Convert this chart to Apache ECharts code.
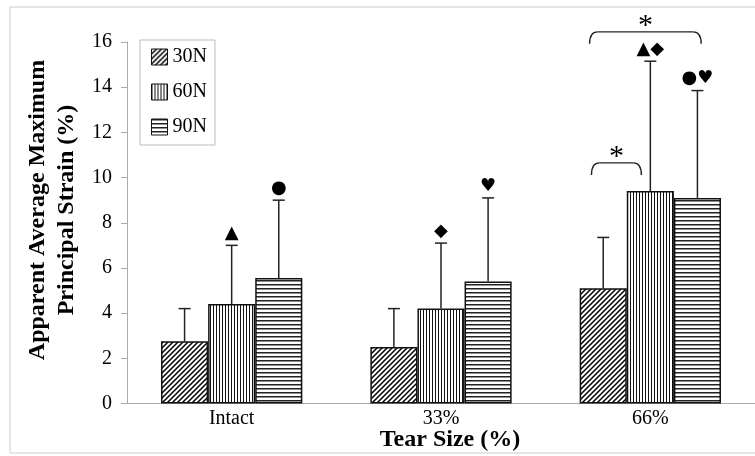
<!DOCTYPE html>
<html lang="en">
<head>
    <meta charset="UTF-8">
    <title>Tear size strain</title>
    <style>
        html, body { margin: 0; padding: 0; background: #fff; }
        #demo { width: 755px; height: 456px; }
    </style>
</head>
<body>
<div id="demo"></div>
<script type="text/javascript" src="https://cdn.jsdelivr.net/npm/echarts@6/dist/echarts.min.js"></script>
<script type="text/javascript">
// data
var categories = ['Intact', '33%', '66%'];
var seriesNames = ['30N', '60N', '90N'];
var strain30 = [2.75, 2.5, 5.1];
var strain60 = [4.4, 4.2, 9.4];
var strain90 = [5.55, 5.4, 9.1];
var sd30 = [1.45, 1.7, 2.25];
var sd60 = [2.6, 2.9, 5.75];
var sd90 = [3.45, 3.7, 4.75];
var marks30 = ['', '', ''];
var marks60 = ['▲', '◆', '▲◆'];
var marks90 = ['●', '♥', '●♥'];
var yTicks = [0, 16, 2];   // min, max, interval
// significance brackets (category, level, bar-slot start/end)
var bracketCat = [2, 2];
var bracketLevel = [10.65, 16.45];
var bracketFrom = [-0.25, -0.29];
var bracketTo = [0.81, 2.08];

var means = [strain30, strain60, strain90];
var sds = [sd30, sd60, sd90];
var marks = [marks30, marks60, marks90];
var BAR_FRAC = 0.225;
var SERIF = "'Liberation Serif', 'Times New Roman', serif";

function makePattern(kind) {
    var c = document.createElement('canvas');
    var ctx;
    if (kind === 'diag') {
        c.width = 5; c.height = 5;
        ctx = c.getContext('2d');
        ctx.fillStyle = '#fff'; ctx.fillRect(0, 0, 5, 5);
        ctx.strokeStyle = '#000'; ctx.lineWidth = 1.5;
        ctx.beginPath();
        ctx.moveTo(-1, 6); ctx.lineTo(6, -1);
        ctx.moveTo(-1, 1); ctx.lineTo(1, -1);
        ctx.moveTo(4, 6); ctx.lineTo(6, 4);
        ctx.stroke();
    } else if (kind === 'vert') {
        c.width = 3; c.height = 3;
        ctx = c.getContext('2d');
        ctx.fillStyle = '#fff'; ctx.fillRect(0, 0, 3, 3);
        ctx.fillStyle = '#111'; ctx.fillRect(0, 0, 1, 3);
    } else {
        c.width = 4; c.height = 4;
        ctx = c.getContext('2d');
        ctx.fillStyle = '#fff'; ctx.fillRect(0, 0, 4, 4);
        ctx.fillStyle = '#222'; ctx.fillRect(0, 0, 4, 1.5);
    }
    return {image: c, repeat: 'repeat'};
}
var patterns = [makePattern('diag'), makePattern('vert'), makePattern('horiz')];

function errRender(s) {
    return function (params, api) {
        var i = params.dataIndex;
        var band = api.size([1, 0])[0];
        var bw = band * BAR_FRAC;
        var cx = api.coord([i, 0])[0] + (s - 1) * bw;
        var yBase = api.coord([i, means[s][i]])[1];
        var yTop = api.coord([i, means[s][i] + sds[s][i]])[1];
        var lineStyle = {stroke: '#222', lineWidth: 1.5};
        return {
            type: 'group',
            children: [
                {type: 'line', shape: {x1: cx, y1: yBase, x2: cx, y2: yTop}, style: lineStyle},
                {type: 'line', shape: {x1: cx - 6, y1: yTop, x2: cx + 6, y2: yTop}, style: lineStyle},
                {type: 'text', x: cx, y: yTop - 3, style: {
                    text: marks[s][i], fill: '#000', fontSize: 18,
                    fontFamily: "'DejaVu Sans', sans-serif", align: 'center', verticalAlign: 'bottom'
                }}
            ]
        };
    };
}

function bracketRender(params, api) {
    var k = params.dataIndex;
    var cat = bracketCat[k];
    var band = api.size([1, 0])[0];
    var bw = band * BAR_FRAC;
    var c0 = api.coord([cat, 0])[0] - bw;   // center of first bar in group
    var x0 = c0 + bracketFrom[k] * bw;
    var x1 = c0 + bracketTo[k] * bw;
    var yt = api.coord([cat, bracketLevel[k]])[1];
    var yb = yt + 12;
    var r = 8;
    var st = {stroke: '#222', lineWidth: 1.4, fill: null};
    return {
        type: 'group',
        children: [
            {type: 'bezierCurve', shape: {x1: x0, y1: yb, x2: x0 + r, y2: yt, cpx1: x0, cpy1: yt}, style: st},
            {type: 'line', shape: {x1: x0 + r, y1: yt, x2: x1 - r, y2: yt}, style: st},
            {type: 'bezierCurve', shape: {x1: x1 - r, y1: yt, x2: x1, y2: yb, cpx1: x1, cpy1: yt}, style: st},
            {type: 'text', x: (x0 + x1) / 2, y: yt + 9, style: {
                text: '*', fill: '#000', fontSize: 30, fontFamily: SERIF,
                align: 'center', verticalAlign: 'bottom'
            }}
        ]
    };
}

var myChart = echarts.init(document.getElementById('demo'));

var series = [];
for (var s = 0; s < 3; s++) {
    series.push({
        name: seriesNames[s],
        type: 'bar',
        data: means[s],
        barWidth: (BAR_FRAC * 100) + '%',
        barGap: '0%',
        itemStyle: {color: patterns[s], borderColor: '#111', borderWidth: 1.5}
    });
}
for (var s2 = 0; s2 < 3; s2++) {
    series.push({
        type: 'custom',
        renderItem: errRender(s2),
        data: means[s2].map(function (v, i) { return [i, v + sds[s2][i]]; }),
        encode: {x: 0, y: 1},
        z: 3
    });
}
series.push({
    type: 'custom',
    renderItem: bracketRender,
    data: bracketCat.map(function (c, k) { return [c, bracketLevel[k]]; }),
    encode: {x: 0, y: 1},
    clip: false,
    z: 3
});

var option = {
    backgroundColor: '#fff',
    animation: false,
    grid: {left: 127, top: 42, width: 633, height: 361.5},
    legend: {
        data: seriesNames,
        icon: 'rect',
        orient: 'vertical',
        left: 140,
        top: 40,
        padding: [7, 8, 8, 11],
        itemWidth: 16,
        itemHeight: 16,
        itemGap: 15,
        borderColor: '#bbb',
        borderWidth: 1,
        itemStyle: {borderColor: '#111', borderWidth: 1},
        textStyle: {fontSize: 20, fontFamily: SERIF, color: '#000'}
    },
    xAxis: {
        type: 'category',
        data: categories,
        axisLine: {lineStyle: {color: '#aaa'}},
        axisTick: {length: 7, lineStyle: {color: '#aaa'}},
        axisLabel: {fontSize: 20, fontFamily: SERIF, color: '#000', margin: 5}
    },
    yAxis: {
        type: 'value',
        min: yTicks[0],
        max: yTicks[1],
        interval: yTicks[2],
        splitLine: {show: false},
        axisLine: {show: true, lineStyle: {color: '#aaa'}},
        axisTick: {show: true, length: 6, lineStyle: {color: '#aaa'}},
        axisLabel: {fontSize: 20, fontFamily: SERIF, color: '#000', margin: 15}
    },
    graphic: [
        {type: 'rect', shape: {x: 10, y: 7, width: 760, height: 446}, style: {stroke: '#ccc', fill: null, lineWidth: 1}, silent: true},
        {type: 'text', x: 52, y: 210, rotation: Math.PI / 2, style: {
            text: 'Apparent Average Maximum\nPrincipal Strain (%)', fontSize: 24, fontWeight: 'bold',
            fontFamily: SERIF, fill: '#000', align: 'center', verticalAlign: 'middle', lineHeight: 29
        }},
        {type: 'text', x: 450, y: 440, style: {
            text: 'Tear Size (%)', fontSize: 24, fontWeight: 'bold', fontFamily: SERIF,
            fill: '#000', align: 'center', verticalAlign: 'middle'
        }}
    ],
    series: series
};
myChart.setOption(option);
</script>
</body>
</html>
